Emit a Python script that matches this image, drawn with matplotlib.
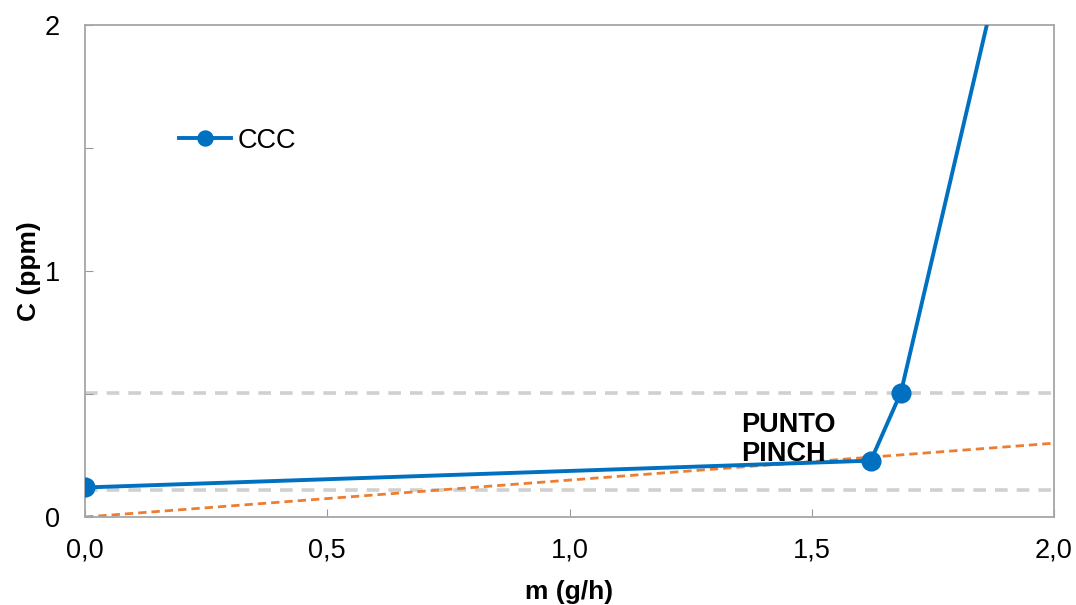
import matplotlib
matplotlib.use("Agg")
import matplotlib.pyplot as plt
from matplotlib.ticker import MultipleLocator, FuncFormatter

plt.rcParams['font.family'] = ['Liberation Sans', 'DejaVu Sans']

# Data
ccc_m = [0.0, 1.622, 1.684, 1.98]
ccc_c = [0.12, 0.229, 0.506, 3.0]
supply_m = [0.0, 2.0]
supply_c = [0.0, 0.30]
ref_levels = [0.11, 0.505]
series_label = "CCC"
annotation = "PUNTO\nPINCH"
xlabel = "m (g/h)"
ylabel = "C (ppm)"

blue = "#0070C0"
orange = "#ED7D31"
gray = "#D0D0D0"

fig = plt.figure(figsize=(10.76, 6.05), dpi=100)
ax = fig.add_axes([85/1076, 1-517/605, (1054-85)/1076, (517-25)/605])

for lv in ref_levels:
    ax.plot([0, 2.0], [lv, lv], color=gray, lw=2.6, dashes=(3.5, 2.5), zorder=1)

ax.plot(supply_m, supply_c, color=orange, lw=2.0, dashes=(3, 1.8), zorder=2)
ax.plot(ccc_m, ccc_c, color=blue, lw=2.8, marker='o', markersize=13.5,
        label=series_label, zorder=3)

ax.text(1.355, 0.425, annotation, fontsize=19.5, fontweight='bold',
        ha='left', va='top', linespacing=1.12, zorder=4)

ax.set_xlim(0, 2.0)
ax.set_ylim(0, 2.0)
ax.xaxis.set_major_locator(MultipleLocator(0.5))
ax.yaxis.set_major_locator(MultipleLocator(0.5))
ax.xaxis.set_major_formatter(FuncFormatter(lambda v, p: f"{v:.1f}".replace('.', ',')))
ax.yaxis.set_major_formatter(FuncFormatter(lambda v, p: f"{int(round(v))}" if abs(v - round(v)) < 1e-6 else ""))
ax.tick_params(direction='in', length=6, color='#999999', labelsize=19.5)
ax.tick_params(axis='x', pad=15)
ax.tick_params(axis='y', pad=18)
for s in ax.spines.values():
    s.set_color('#A6A6A6')
    s.set_linewidth(1.3)

ax.set_xlabel(xlabel, fontsize=19, fontweight='bold', labelpad=12)
ax.set_ylabel(ylabel, fontsize=19, fontweight='bold', labelpad=3)

leg = ax.legend(loc='center left', bbox_to_anchor=(0.072, 0.765), frameon=False,
                fontsize=19.5, handlelength=1.9, handletextpad=0.25, markerscale=0.8)

fig.savefig("out.png", dpi=100)
